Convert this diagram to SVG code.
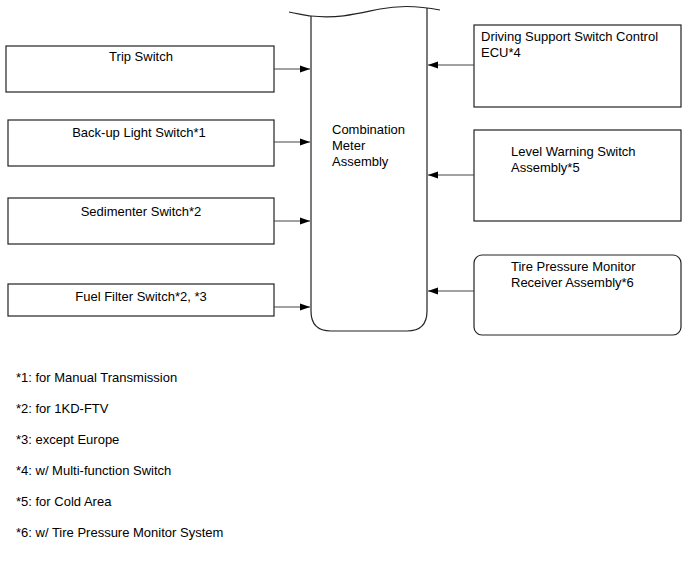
<svg xmlns="http://www.w3.org/2000/svg" width="689" height="561" viewBox="0 0 689 561">
<style>
.box{fill:#fff;stroke:#222;stroke-width:1.2}
.t{font-family:"Liberation Sans",Arial,sans-serif;font-size:13px;fill:#000}
.c{text-anchor:middle}
.conn{stroke:#444;stroke-width:1;fill:none}
</style>
<defs>
<marker id="ah" markerWidth="10" markerHeight="8" refX="10" refY="4" orient="auto" markerUnits="userSpaceOnUse">
<path d="M0,0.5 L10,4 L0,7.5 Z" fill="#000"/>
</marker>
</defs>
<rect width="689" height="561" fill="#fff"/>
<g id="meter">
<path class="box" d="M311,16 L311,311 Q311,331 331,331 L407,331 Q427,331 427,311 L427,8"/>
<path d="M289,12 C300,14 306,16 311,16 C340,19 360,13 380,9 C400,5 420,6 440,10" fill="none" stroke="#222" stroke-width="1.2"/>
<text class="t" x="332" y="134">Combination</text>
<text class="t" x="332" y="150">Meter</text>
<text class="t" x="332" y="166">Assembly</text>
</g>
<g id="trip">
<rect class="box" x="6" y="46" width="268" height="46"/>
<text class="t c" x="141" y="61">Trip Switch</text>
</g>
<g id="backup">
<rect class="box" x="8" y="120" width="266" height="46"/>
<text class="t c" x="139" y="137">Back-up Light Switch*1</text>
</g>
<g id="sedimenter">
<rect class="box" x="8" y="198" width="266" height="46"/>
<text class="t c" x="141" y="216">Sedimenter Switch*2</text>
</g>
<g id="fuel">
<rect class="box" x="8" y="284" width="266" height="32"/>
<text class="t c" x="141" y="301">Fuel Filter Switch*2, *3</text>
</g>
<g id="driving">
<rect class="box" x="474" y="25" width="207" height="82"/>
<text class="t" x="481" y="41">Driving Support Switch Control</text>
<text class="t" x="481" y="57">ECU*4</text>
</g>
<g id="level">
<rect class="box" x="474" y="130" width="207" height="91"/>
<text class="t" x="511" y="156">Level Warning Switch</text>
<text class="t" x="511" y="172">Assembly*5</text>
</g>
<g id="tire">
<rect class="box" x="474" y="255" width="207" height="80" rx="8" ry="8"/>
<text class="t" x="511" y="271">Tire Pressure Monitor</text>
<text class="t" x="511" y="287">Receiver Assembly*6</text>
</g>
<g id="connectors">
<line class="conn" x1="274" y1="69" x2="310" y2="69" marker-end="url(#ah)"/>
<line class="conn" x1="274" y1="142" x2="310" y2="142" marker-end="url(#ah)"/>
<line class="conn" x1="274" y1="221" x2="310" y2="221" marker-end="url(#ah)"/>
<line class="conn" x1="274" y1="307" x2="310" y2="307" marker-end="url(#ah)"/>
<line class="conn" x1="474" y1="65" x2="428" y2="65" marker-end="url(#ah)"/>
<line class="conn" x1="474" y1="175" x2="428" y2="175" marker-end="url(#ah)"/>
<line class="conn" x1="474" y1="291" x2="428" y2="291" marker-end="url(#ah)"/>
</g>
<g id="notes">
<text class="t" x="16" y="382">*1: for Manual Transmission</text>
<text class="t" x="16" y="413">*2: for 1KD-FTV</text>
<text class="t" x="16" y="444">*3: except Europe</text>
<text class="t" x="16" y="475">*4: w/ Multi-function Switch</text>
<text class="t" x="16" y="506">*5: for Cold Area</text>
<text class="t" x="16" y="537">*6: w/ Tire Pressure Monitor System</text>
</g>
</svg>
